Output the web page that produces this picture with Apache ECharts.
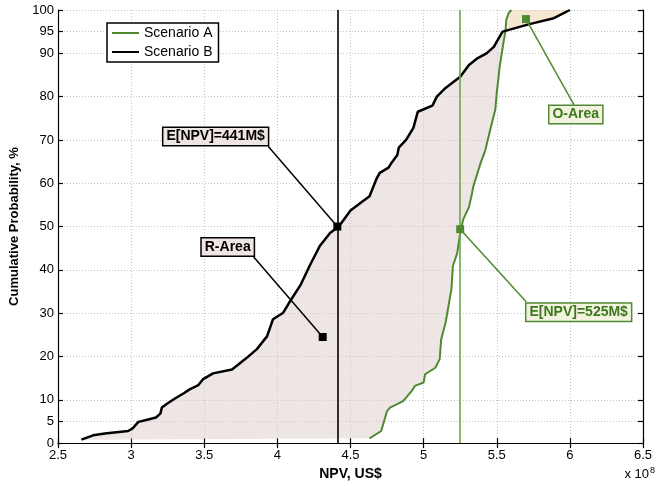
<!DOCTYPE html>
<html><head><meta charset="utf-8">
<script src="https://cdn.jsdelivr.net/npm/echarts@6/dist/echarts.min.js"></script>
<style>html,body{margin:0;padding:0;background:#fff}#c{width:667px;height:486px}</style>
</head><body><div id="c"></div>
<script>
// ---- data (NPV in units of 1e8 US$, probability in %) ----
const xTicks = [2.5, 3, 3.5, 4, 4.5, 5, 5.5, 6, 6.5];
const yTicks = [0, 5, 10, 20, 30, 40, 50, 60, 70, 80, 90, 95, 100];

const scenarioA_npv  = [4.63,4.71,4.75,4.77,4.86,4.92,4.94,5.00,5.01,5.08,5.11,5.12,5.15,5.16,5.18,5.19,5.20,5.23,5.25,5.27,5.31,5.33,5.34,5.39,5.42,5.45,5.49,5.50,5.52,5.545,5.56,5.565,5.58,5.60];
const scenarioA_prob = [1.1,2.8,7.4,8.2,9.7,12.1,13.2,14.0,15.9,17.4,19.4,24.0,27.8,29.7,33.6,35.5,40.9,43.9,48.5,51.6,54.5,57.5,59.3,64.7,67.4,71.6,77.0,80.8,86.9,92.3,95.2,97.7,99.2,100];

const scenarioB_npv  = [2.66,2.74,2.82,2.98,3.01,3.05,3.11,3.17,3.20,3.21,3.25,3.30,3.36,3.40,3.46,3.49,3.56,3.69,3.78,3.86,3.93,3.97,4.04,4.08,4.16,4.22,4.29,4.36,4.42,4.50,4.57,4.63,4.68,4.70,4.76,4.78,4.82,4.83,4.88,4.93,4.96,5.06,5.09,5.15,5.25,5.31,5.37,5.43,5.48,5.50,5.54,5.73,5.89,6.00];
const scenarioB_prob = [0.8,1.8,2.2,2.8,3.4,4.9,5.4,5.9,6.8,8.2,9.2,10.3,11.5,12.4,13.4,14.7,16.1,17.0,19.4,21.7,24.7,28.6,30.1,32.4,36.6,40.9,45.5,48.5,50.0,53.7,55.5,57.0,61.2,62.4,63.6,64.7,66.5,68.2,70.0,72.8,76.5,77.9,80.0,82.0,84.6,87.3,88.9,90.0,91.5,92.7,95.0,96.8,98.1,100];

const expectedNPV_A = 5.25;
const expectedNPV_B = 4.41;

const annotationText = ['E[NPV]=441M$', 'R-Area', 'E[NPV]=525M$', 'O-Area'];
const annotationNPV  = [4.41, 4.31, 5.25, 5.70];
const annotationProb = [50, 24.5, 49.4, 97.9];

// ---- styling / layout (not data) ----
const FONT = '"Liberation Sans", Arial, Helvetica, sans-serif';
const GREEN = '#4f8a32', GREEN_V = '#6aa64e', GREEN_TXT = '#3a7a1c';
const annLayout = [
  {stroke:'#000', text:'#000', bg:'#efe5e3', box:[-121.7,-90], end:[-69,-80]},
  {stroke:'#000', text:'#000', bg:'#efe5e3', box:[-95,-90],    end:[-69,-80]},
  {stroke:GREEN,  text:GREEN_TXT, bg:'#f3f1df', box:[118.5,83], end:[66,72.7]},
  {stroke:GREEN,  text:GREEN_TXT, bg:'#f3f1df', box:[49.8,95.4], end:[48,85.7]}
];

const A = scenarioA_npv.map((x,i)=>[x, scenarioA_prob[i]]);
const B = scenarioB_npv.map((x,i)=>[x, scenarioB_prob[i]]);

// crossing of the two curves (geometric intersection of the polylines)
function intersect(P, Q){
  let best = null;
  for (let i=0;i<P.length-1;i++) for (let j=0;j<Q.length-1;j++){
    const [x1,y1]=P[i],[x2,y2]=P[i+1],[x3,y3]=Q[j],[x4,y4]=Q[j+1];
    const d=(x1-x2)*(y3-y4)-(y1-y2)*(x3-x4); if(!d) continue;
    const t=((x1-x3)*(y3-y4)-(y1-y3)*(x3-x4))/d;
    const u=-((x1-x2)*(y1-y3)-(y1-y2)*(x1-x3))/d;
    if(t>=0&&t<=1&&u>=0&&u<=1){ const p=[x1+t*(x2-x1), y1+t*(y2-y1)]; if(!best||p[1]>best[1]) best=p; }
  }
  return best;
}
const cross = intersect(B, A);
const polyR = [...B.filter(p=>p[1]<cross[1]), cross, ...A.filter(p=>p[1]<cross[1]).reverse()];
const polyO = [cross, ...B.filter(p=>p[1]>cross[1]), ...A.filter(p=>p[1]>cross[1]).reverse()];
const polys = [polyR, polyO];
const polyFill = ['rgba(220,206,202,0.5)', 'rgba(238,208,165,0.5)'];

const chart = echarts.init(document.getElementById('c'), null, {renderer:'canvas'});
const axisCommon = {
  axisLine:{show:true, lineStyle:{color:'#000', width:1.2}},
  axisTick:{show:true, inside:true, length:5, lineStyle:{color:'#000', width:1.2}}
};
chart.setOption({
  animation:false,
  backgroundColor:'#fff',
  textStyle:{fontFamily:FONT},
  grid:{left:58, right:24, top:10, bottom:42, containLabel:false},
  legend:{
    orient:'vertical', left:107, top:23, data:['Scenario A','Scenario B'],
    icon:'path://M0 0 L27 0 L27 2 L0 2 Z',
    itemWidth:27, itemHeight:14, itemGap:5, padding:[3,6,3,5],
    borderColor:'#000', borderWidth:1.5, backgroundColor:'#fff',
    textStyle:{fontSize:14, color:'#000', fontFamily:FONT}
  },
  xAxis:[
    Object.assign({type:'value', min:xTicks[0], max:xTicks[xTicks.length-1], interval:0.5, position:'bottom',
      name:'NPV, US$', nameLocation:'middle', nameGap:16,
      nameTextStyle:{fontSize:14, fontWeight:'bold', color:'#000', fontFamily:FONT},
      axisLabel:{fontSize:13, color:'#000', margin:6, fontFamily:FONT, customValues:xTicks},
      splitLine:{show:true, lineStyle:{color:'#c4c4c4', type:[1,2], width:1}}}, axisCommon),
    Object.assign({type:'value', min:xTicks[0], max:xTicks[xTicks.length-1], interval:0.5, position:'top',
      axisLabel:{show:false}, splitLine:{show:false}}, axisCommon)
  ],
  yAxis:[
    {type:'value', min:0, max:100, position:'left',
      name:'Cumulative Probability, %', nameLocation:'middle', nameGap:32, nameRotate:90,
      nameTextStyle:{fontSize:13, fontWeight:'bold', color:'#000', fontFamily:FONT},
      axisLabel:{fontSize:13, color:'#000', margin:4, fontFamily:FONT, customValues:yTicks},
      axisTick:{show:true, inside:true, length:5, customValues:yTicks, lineStyle:{color:'#000', width:1.2}},
      axisLine:{show:true, lineStyle:{color:'#000', width:1.2}},
      splitLine:{show:true, lineStyle:{color:'#c4c4c4', type:[1,2], width:1}}},
    {type:'value', min:0, max:100, position:'right',
      axisLabel:{show:false, customValues:yTicks},
      axisTick:{show:true, inside:true, length:5, customValues:yTicks, lineStyle:{color:'#000', width:1.2}},
      axisLine:{show:true, lineStyle:{color:'#000', width:1.2}},
      splitLine:{show:false}}
  ],
  graphic:[{
    type:'text', right:12, bottom:5,
    style:{text:'x 10{s|8}', font:'13px '+FONT, fill:'#000',
      rich:{s:{fontSize:9, verticalAlign:'top', padding:[0,0,8,1]}}}
  }],
  series:[
    {
      type:'custom', name:'areas', silent:true, z:1, clip:true,
      encode:{x:0, y:1},
      data:polys.map((p,i)=>[p[0][0], p[0][1], i]),
      renderItem:(params, api)=>{
        const i = params.dataIndex;
        return {type:'polygon', shape:{points:polys[i].map(p=>api.coord(p))}, style:{fill:polyFill[i]}};
      }
    },
    {
      type:'line', name:'Scenario A', data:A, symbol:'none', showSymbol:false, z:3,
      color:GREEN, lineStyle:{color:GREEN, width:2},
      markLine:{silent:true, symbol:'none', animation:false, label:{show:false},
        lineStyle:{color:GREEN_V, width:1.6, type:'solid'}, data:[{xAxis:expectedNPV_A}]}
    },
    {
      type:'line', name:'Scenario B', data:B, symbol:'none', showSymbol:false, z:4,
      color:'#000', lineStyle:{color:'#000', width:2.5},
      markLine:{silent:true, symbol:'none', animation:false, label:{show:false},
        lineStyle:{color:'#000', width:1.6, type:'solid'}, data:[{xAxis:expectedNPV_B}]}
    },
    {
      type:'custom', name:'annotations', silent:true, z:6, clip:false,
      encode:{x:0, y:1},
      data:annotationNPV.map((x,i)=>[x, annotationProb[i]]),
      renderItem:(params, api)=>{
        const i = params.dataIndex, L = annLayout[i];
        const p = api.coord([api.value(0), api.value(1)]);
        return {type:'group', children:[
          {type:'line', shape:{x1:p[0], y1:p[1], x2:p[0]+L.end[0], y2:p[1]+L.end[1]},
            style:{stroke:L.stroke, lineWidth:1.5}},
          {type:'rect', shape:{x:p[0]-4, y:p[1]-4, width:8, height:8}, style:{fill:L.stroke}},
          {type:'text', x:p[0]+L.box[0], y:p[1]+L.box[1],
            style:{text:annotationText[i], align:'center', verticalAlign:'middle',
              font:'bold 14px '+FONT, fill:L.text, backgroundColor:L.bg,
              borderColor:L.stroke, borderWidth:1.5, padding:[2,3,1,3]}}
        ]};
      }
    }
  ]
});
</script></body></html>
